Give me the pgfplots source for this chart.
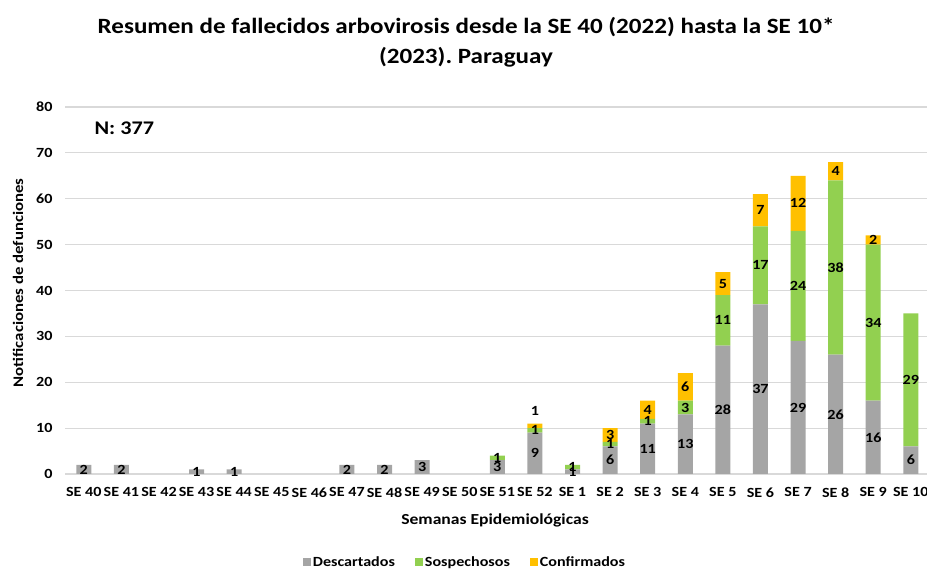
\documentclass[border=0pt]{standalone}
\usepackage{pgfplots}
\pgfplotsset{compat=1.18}
\usepackage{pgfplotstable}
\usepackage{fontspec}
\setmainfont{Carlito}[FakeStretch=1.15]
\frenchspacing

\definecolor{desc}{HTML}{A5A5A5}
\definecolor{sosp}{HTML}{92D050}
\definecolor{conf}{HTML}{FFC000}
\definecolor{gridc}{HTML}{D9D9D9}

% Deaths per epidemiological week: descartados, sospechosos, confirmados;
% lc lifts the confirmados label above a very short top segment
\pgfplotstableread{
x  d  s  c  lc
0  2  0  0  0
1  2  0  0  0
2  0  0  0  0
3  1  0  0  0
4  1  0  0  0
5  0  0  0  0
6  0  0  0  0
7  2  0  0  0
8  2  0  0  0
9  3  0  0  0
10 0  0  0  0
11 3  1  0  0
12 9  1  1  3.2
13 1  1  0  0
14 6  1  3  0
15 11 1  4  0
16 13 3  6  0
17 28 11 5  0
18 37 17 7  0
19 29 24 12 0
20 26 38 4  0
21 16 34 2  0
22 6  29 0  0
}\datos

\pgfplotsset{
  panel/.style={at={(65pt,96pt)}, anchor=south west,
    scale only axis, width=862pt, height=367pt,
    xmin=-0.5, xmax=22.43, ymin=0, ymax=80},
  % value labels, centred in each segment
  seglabel/.style={draw=none, mark=none, point meta=explicit symbolic,
     nodes near coords={\ifnum\pgfplotspointmeta=0 \else\pgfplotspointmeta\fi},
     every node near coord/.style={anchor=center, inner sep=0pt,
        font=\bfseries\fontsize{14}{15}\selectfont, text=black}},
}

\begin{document}
\begin{tikzpicture}[x=1pt,y=1pt]
\path[use as bounding box] (0,0) rectangle (927,570);

\node[font=\bfseries\fontsize{21.8}{30}\selectfont, align=center] at (466,528)
  {Resumen de fallecidos arbovirosis desde la SE 40 (2022) hasta la SE 10*\\(2023). Paraguay};

\begin{axis}[
  panel,
  ybar stacked, bar width=15pt,
  ytick={0,10,...,80},
  xtick={0,...,22},
  xticklabels={SE 40,SE 41,SE 42,SE 43,SE 44,SE 45,SE 46,SE 47,SE 48,SE 49,SE 50,SE 51,SE 52,SE 1,SE 2,SE 3,SE 4,SE 5,SE 6,SE 7,SE 8,SE 9,SE 10},
  major tick length=0pt,
  separate axis lines,
  axis x line*=bottom, axis y line*=left,
  x axis line style={draw=gridc, line width=1.2pt, -},
  y axis line style={draw=none},
  ymajorgrids, grid style={draw=gridc, line width=1.2pt},
  ticklabel style={font=\bfseries\fontsize{14}{15}\selectfont},
  xticklabel style={yshift=-10pt},
  yticklabel style={xshift=-9pt},
  /pgf/number format/assume math mode=true,
  legend style={at={(0.464,-0.24)}, anchor=center, draw=none, fill=none,
     legend columns=3, font=\bfseries\fontsize{14}{15}\selectfont,
     /tikz/every even column/.append style={column sep=18pt}},
  legend image code/.code={\fill[#1] (0pt,-4pt) rectangle (8pt,4pt);},
]
\addplot[fill=desc, draw=none] table[x=x, y=d] {\datos};
\addplot[fill=sosp, draw=none] table[x=x, y=s] {\datos};
\addplot[fill=conf, draw=none] table[x=x, y=c] {\datos};
\legend{Descartados, Sospechosos, Confirmados}
\end{axis}

\begin{axis}[panel, hide axis]
\addplot[seglabel] table[x=x, y expr=\thisrow{d}/2, meta=d] {\datos};
\addplot[seglabel] table[x=x, y expr=\thisrow{d}+\thisrow{s}/2, meta=s] {\datos};
\addplot[seglabel] table[x=x, y expr=\thisrow{d}+\thisrow{s}+\thisrow{c}/2+\thisrow{lc}, meta=c] {\datos};
\end{axis}

\node[font=\bfseries\fontsize{19.3}{20}\selectfont, anchor=west] at (91,442) {N: 377};
\node[font=\bfseries\fontsize{15.3}{16}\selectfont] at (495,50) {Semanas Epidemiológicas};
\node[font=\bfseries\fontsize{14.6}{15}\selectfont, rotate=90] at (18,287) {Notificaciones de defunciones};
\end{tikzpicture}
\end{document}
